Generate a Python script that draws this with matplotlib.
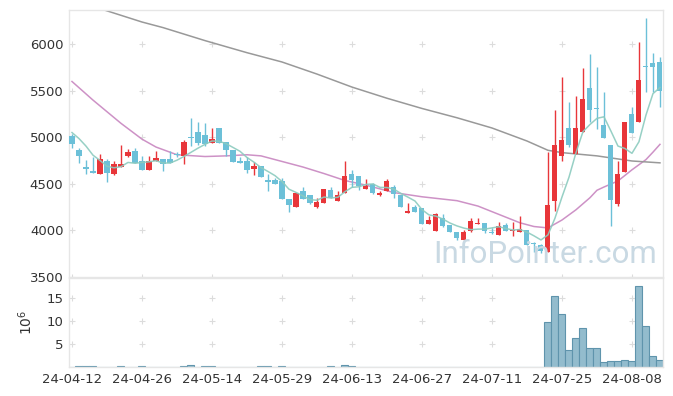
import numpy as np
import pandas as pd
import matplotlib
matplotlib.use("Agg")
import matplotlib.pyplot as plt

# daily candles, 24-04-12 .. 24-08-14
opens = [5011, 4859, 4685, 4637, 4605, 4743, 4605, 4685, 4797, 4848,
         4750, 4652, 4743, 4768, 4768, 4815, 4804, 5005, 5054, 5022,
         4942, 5095, 4949, 4866, 4750, 4741, 4663, 4690, 4543, 4543,
         4533, 4337, 4250, 4424, 4381, 4254, 4294, 4435, 4319, 4405,
         4605, 4587, 4442, 4496, 4381, 4420, 4461, 4381, 4185, 4254,
         4243, 4069, 3993, 4130, 4058, 3986, 3899, 3989, 4062, 4073,
         3985, 3945, 4058, 3990, 3982, 4007, 3860, 3837, 3761, 4315,
         4804, 5095, 4822, 5054, 5526, 5315, 5130, 4913, 4286, 4623,
         5250, 5168, 5766, 5798, 5813]
highs = [5040, 4884, 4758, 4786, 4823, 4765, 4750, 4913, 4870, 4884,
         4800, 4797, 4851, 4768, 4851, 4840, 4967, 5203, 5164, 5155,
         5095, 5095, 4949, 4866, 4793, 4786, 4732, 4690, 4601, 4565,
         4565, 4337, 4405, 4461, 4381, 4352, 4446, 4461, 4420, 4750,
         4648, 4587, 4551, 4510, 4420, 4551, 4490, 4381, 4290, 4270,
         4243, 4152, 4190, 4175, 4058, 3986, 4000, 4130, 4134, 4073,
         4025, 4090, 4080, 4087, 4152, 4007, 3870, 3850, 4837, 5293,
         5645, 5383, 5446, 5750, 5897, 5761, 5492, 4913, 4750, 5166,
         5329, 6030, 6283, 5903, 5863]
lows = [4880, 4721, 4605, 4611, 4605, 4522, 4594, 4685, 4786, 4725,
        4652, 4652, 4743, 4634, 4724, 4790, 4714, 4902, 4913, 4902,
        4942, 4942, 4800, 4732, 4721, 4620, 4594, 4576, 4424, 4497,
        4337, 4196, 4250, 4337, 4283, 4243, 4294, 4352, 4319, 4405,
        4461, 4428, 4442, 4395, 4370, 4420, 4352, 4246, 4185, 4196,
        4069, 4069, 3993, 4030, 3986, 3900, 3899, 3980, 4062, 3970,
        3960, 3945, 3997, 3935, 3982, 3837, 3770, 3750, 3761, 4207,
        4743, 4900, 4822, 5054, 5168, 5084, 4997, 4047, 4261, 4623,
        5047, 5168, 5492, 5492, 5326]
closes = [4924, 4797, 4655, 4611, 4768, 4611, 4714, 4714, 4840, 4725,
          4652, 4750, 4775, 4714, 4724, 4805, 4953, 4995, 4938, 4928,
          4986, 4942, 4866, 4732, 4721, 4652, 4690, 4576, 4522, 4497,
          4337, 4275, 4405, 4337, 4290, 4308, 4446, 4352, 4381, 4587,
          4541, 4478, 4478, 4406, 4402, 4533, 4389, 4246, 4210, 4196,
          4069, 4105, 4178, 4051, 3986, 3913, 3986, 4095, 4080, 3989,
          3975, 4051, 3997, 4000, 4015, 3837, 3850, 3776, 4272, 4913,
          4975, 4913, 5095, 5407, 5298, 5305, 4997, 4323, 4605, 5166,
          5047, 5620, 5756, 5758, 5497]
# volume in millions of shares
volume = [0.03, 0.25, 0.25, 0.25, 0.03, 0.03, 0.03, 0.25, 0.03, 0.03,
          0.25, 0.03, 0.03, 0.03, 0.03, 0.03, 0.25, 0.5, 0.03, 0.25,
          0.25, 0.03, 0.03, 0.03, 0.03, 0.03, 0.03, 0.25, 0.25, 0.03,
          0.25, 0.03, 0.03, 0.03, 0.03, 0.03, 0.03, 0.25, 0.03, 0.5,
          0.25, 0.03, 0.03, 0.03, 0.03, 0.03, 0.03, 0.03, 0.03, 0.03,
          0.03, 0.03, 0.03, 0.03, 0.03, 0.03, 0.03, 0.03, 0.03, 0.03,
          0.03, 0.03, 0.03, 0.03, 0.03, 0.03, 0.03, 0.03, 9.8, 15.5,
          11.6, 3.8, 6.3, 8.5, 4.2, 4.2, 1.15, 1.35, 1.35, 1.6,
          1.35, 17.7, 8.9, 2.45, 1.6]
prev_closes = [5120, 5060, 5100, 5050]

# longer moving averages (index, value)
ma20_idx = [0, 3, 7, 10, 12, 15, 19, 22, 25, 27, 30, 33, 36, 39, 42, 46,
            50, 55, 58, 61, 64, 66, 68, 70, 72, 74, 75, 76, 78, 80, 82, 83, 84]
ma20_val = [5600, 5400, 5150, 4980, 4895, 4812, 4793, 4800, 4812, 4800,
            4740, 4680, 4610, 4535, 4485, 4405, 4360, 4318, 4260, 4170,
            4080, 4040, 4025, 4110, 4220, 4350, 4430, 4465, 4530, 4650,
            4760, 4840, 4924]
ma120_idx = [0, 5, 10, 13, 19, 25, 30, 35, 40, 45, 50, 55, 60, 65, 68, 70,
             75, 80, 84]
ma120_val = [6480, 6360, 6240, 6180, 6040, 5910, 5810, 5680, 5540, 5420,
             5310, 5210, 5100, 4960, 4860, 4835, 4800, 4745, 4725]

date_labels = ["24-04-12", "24-04-26", "24-05-14", "24-05-29", "24-06-13",
               "24-06-27", "24-07-11", "24-07-25", "24-08-08"]
price_ticks = [3500, 4000, 4500, 5000, 5500, 6000]
vol_ticks = [5, 10, 15]

o = np.array(opens); h = np.array(highs); l = np.array(lows); c = np.array(closes)
x = np.arange(len(c))
ma5 = pd.Series(prev_closes + closes).rolling(5).mean().iloc[4:].values

red = "#e8363a"
blue = "#6cc0d8"
frame = "#e6e6e6"
cols = np.where(c >= o, red, blue)

fig = plt.figure(figsize=(6.73, 3.96), dpi=100)
ax = fig.add_axes([0.1025, 0.3005, 0.8826, 0.6742])
axv = fig.add_axes([0.1025, 0.0725, 0.8826, 0.2247], sharex=ax)

ax.vlines(x, l, h, color=cols, lw=1.0, zorder=3)
ax.bar(x, np.maximum(np.abs(c - o), 9), bottom=np.minimum(o, c), width=0.72,
       color=cols, zorder=4)
ax.plot(x, ma5, color="#8ccbbf", lw=1.1, alpha=0.9, zorder=5)
ax.plot(ma20_idx, ma20_val, color="#c886c0", lw=1.1, alpha=0.9, zorder=2)
ax.plot(ma120_idx, ma120_val, color="#999999", lw=1.1, zorder=2)

xt = list(range(0, len(c), 10))
# plus-shaped grid marks
gx, gy = np.meshgrid(xt, price_ticks)
ax.plot(gx.ravel(), gy.ravel(), ls="none", marker="+", ms=5, mew=0.8,
        color="#dcdcdc", zorder=1, clip_on=False)
ax.text(0.99, 0.03, "InfoPointer.com", transform=ax.transAxes, ha="right",
        va="bottom", fontsize=22.5, family="Roboto", color="#c9d9e3", zorder=6)

ax.set_xlim(-0.43, len(c) - 0.57)
ax.set_ylim(3497, 6369)
ax.set_yticks(price_ticks)
ax.tick_params(axis="x", labelbottom=False, length=0)
ax.tick_params(axis="y", length=0, labelsize=9.5, labelcolor="#333333", pad=4)

axv.bar(x, volume, width=1.0, color="#93bccd", edgecolor="#5f94ac", lw=0.8)
vx, vy = np.meshgrid(xt, vol_ticks)
axv.plot(vx.ravel(), vy.ravel(), ls="none", marker="+", ms=5, mew=0.8,
         color="#dcdcdc", zorder=0)
axv.set_ylim(0, 19.35)
axv.set_yticks(vol_ticks)
axv.set_xticks(xt)
axv.set_xticklabels(date_labels)
axv.tick_params(length=0, labelsize=9.5, labelcolor="#333333", pad=4)
axv.set_ylabel("10$^6$", fontsize=10, color="#333333", labelpad=8)

for a in (ax, axv):
    for s in a.spines.values():
        s.set_color(frame)
        s.set_linewidth(1.0)

fig.savefig("out.png", dpi=100)
